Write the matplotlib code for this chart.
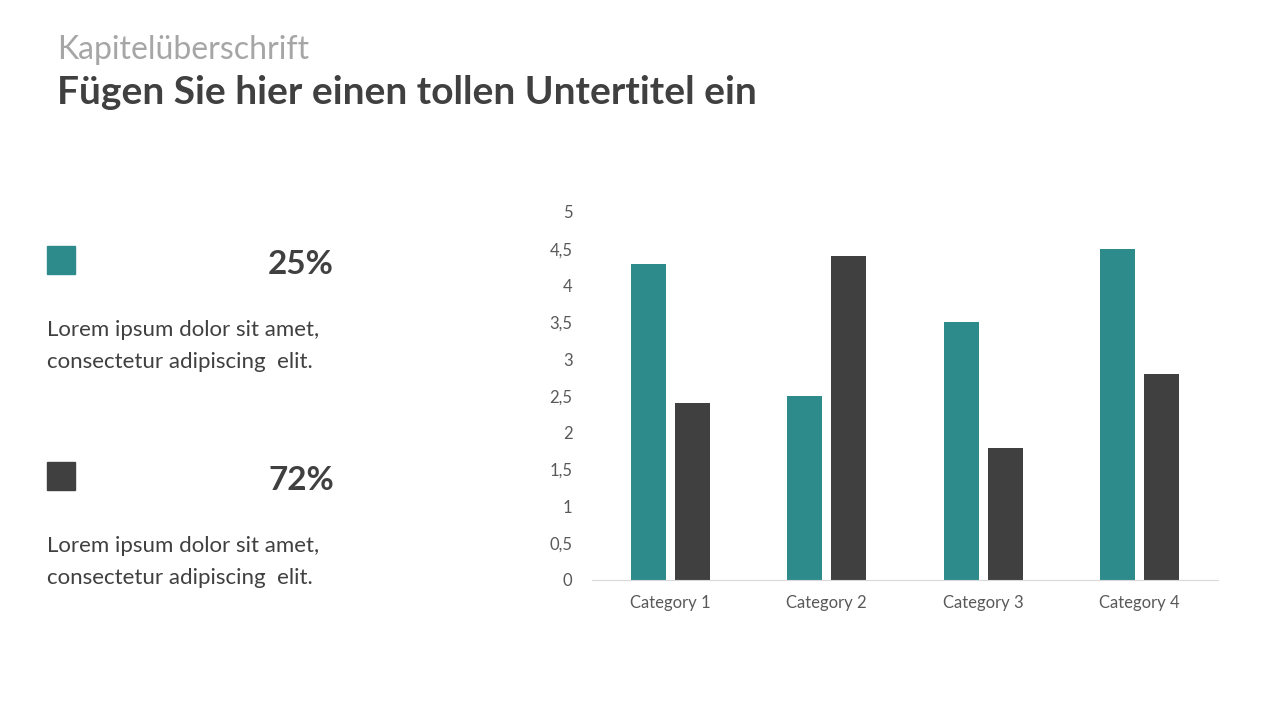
import matplotlib.pyplot as plt
import numpy as np
from matplotlib.patches import Rectangle

plt.rcParams['font.family'] = ['Lato', 'DejaVu Sans']

categories = ['Category 1', 'Category 2', 'Category 3', 'Category 4']
series_a = [4.3, 2.5, 3.5, 4.5]
series_b = [2.4, 4.4, 1.8, 2.8]
ticks = [0, 0.5, 1, 1.5, 2, 2.5, 3, 3.5, 4, 4.5, 5]
tick_labels = ['0', '0,5', '1', '1,5', '2', '2,5', '3', '3,5', '4', '4,5', '5']
percents = ['25%', '72%']
body = 'Lorem ipsum dolor sit amet,\nconsectetur adipiscing  elit.'

teal = '#2E8B8B'
dark = '#404040'

fig = plt.figure(figsize=(12.8, 7.2), dpi=100)

# titles
fig.text(57 / 1280, 1 - 50 / 720, 'Kapitelüberschrift', fontsize=23,
         color='#A6A6A6', va='center', ha='left')
fig.text(57 / 1280, 1 - 92 / 720, 'Fügen Sie hier einen tollen Untertitel ein',
         fontsize=28, fontweight='bold', color=dark, va='center', ha='left')

# left info blocks
for i, (col, pct) in enumerate(zip([teal, dark], percents)):
    y0 = 260 + i * 216
    fig.patches.append(Rectangle((47 / 1280, 1 - (y0 + 14) / 720), 28 / 1280, 28 / 720,
                                 transform=fig.transFigure, color=col, figure=fig))
    fig.text(334 / 1280, 1 - (y0 + 5) / 720, pct, fontsize=24, fontweight='bold',
             color=dark, ha='right', va='center')
    fig.text(47 / 1280, 1 - (y0 + 86) / 720, body, fontsize=16, color=dark,
             ha='left', va='center', linespacing=1.8)

# chart
ax = fig.add_axes([592 / 1280, 140 / 720, 626 / 1280, 368 / 720])
x = np.arange(len(categories))
w = 0.224
ax.bar(x - 0.14, series_a, w, color=teal)
ax.bar(x + 0.14, series_b, w, color=dark)
ax.set_xlim(-0.5, 3.5)
ax.set_ylim(0, 5)
ax.set_yticks(ticks)
ax.set_yticklabels(tick_labels)
ax.set_xticks(x)
ax.set_xticklabels(categories)
ax.tick_params(length=0, labelsize=12, labelcolor='#595959')
ax.tick_params(axis='y', pad=14)
ax.tick_params(axis='x', pad=11)
for s in ['top', 'right', 'left']:
    ax.spines[s].set_visible(False)
ax.spines['bottom'].set_color('#D9D9D9')

fig.savefig('out.png', dpi=100)
